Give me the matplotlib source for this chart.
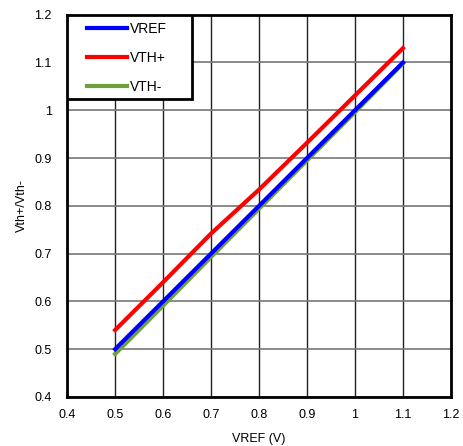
import matplotlib
matplotlib.use("Agg")
import matplotlib.pyplot as plt
from matplotlib.patches import Rectangle

plt.rcParams['font.family'] = ['Liberation Sans', 'DejaVu Sans']

vref = [0.5, 0.6, 0.7, 0.8, 0.9, 1.0, 1.1]
vth_plus = [0.54, 0.64, 0.742, 0.834, 0.932, 1.031, 1.13]
vth_minus = [0.49, 0.591, 0.693, 0.794, 0.895, 0.996, 1.098]

fig = plt.figure(figsize=(4.63, 4.46), dpi=100)
ax = fig.add_axes([0.145, 0.11, 0.829, 0.857])

ax.plot(vref, vref, color='#0000ff', lw=3, label='VREF', zorder=4)
ax.plot(vref, vth_plus, color='#ff0000', lw=3, label='VTH+', zorder=4)
ax.plot(vref, vth_minus, color='#70a03c', lw=3, label='VTH-', zorder=3)

ticks = [0.4, 0.5, 0.6, 0.7, 0.8, 0.9, 1.0, 1.1, 1.2]
tick_labels = ['0.4', '0.5', '0.6', '0.7', '0.8', '0.9', '1', '1.1', '1.2']
ax.set_xlim(0.4, 1.2)
ax.set_ylim(0.4, 1.2)
ax.set_xticks(ticks)
ax.set_xticklabels(tick_labels)
ax.set_yticks(ticks)
ax.set_yticklabels(tick_labels)
ax.tick_params(axis='x', length=0, labelsize=9, pad=9)
ax.tick_params(axis='y', length=0, labelsize=9, pad=11)

ax.xaxis.grid(True, color='#222222', lw=1)
ax.yaxis.grid(True, color='#777777', lw=1.2)
ax.set_axisbelow(True)
for s in ax.spines.values():
    s.set_linewidth(2)
    s.set_color('black')

ax.set_xlabel('VREF (V)', fontsize=9, labelpad=8)
ax.set_ylabel('Vth+/Vth-', fontsize=9, labelpad=5)

# legend box drawn by hand, legend itself without frame
ax.add_patch(Rectangle((0.0, 0.78), 0.326, 0.22, transform=ax.transAxes,
                       facecolor='white', edgecolor='black', lw=2, zorder=5))
leg = ax.legend(loc='center left', bbox_to_anchor=(0.052, 0.886), fontsize=10,
                frameon=False, handlelength=2.9, handletextpad=0.2,
                labelspacing=1.08, borderpad=0, borderaxespad=0)
leg.set_zorder(6)

fig.savefig('out.png', dpi=100)
